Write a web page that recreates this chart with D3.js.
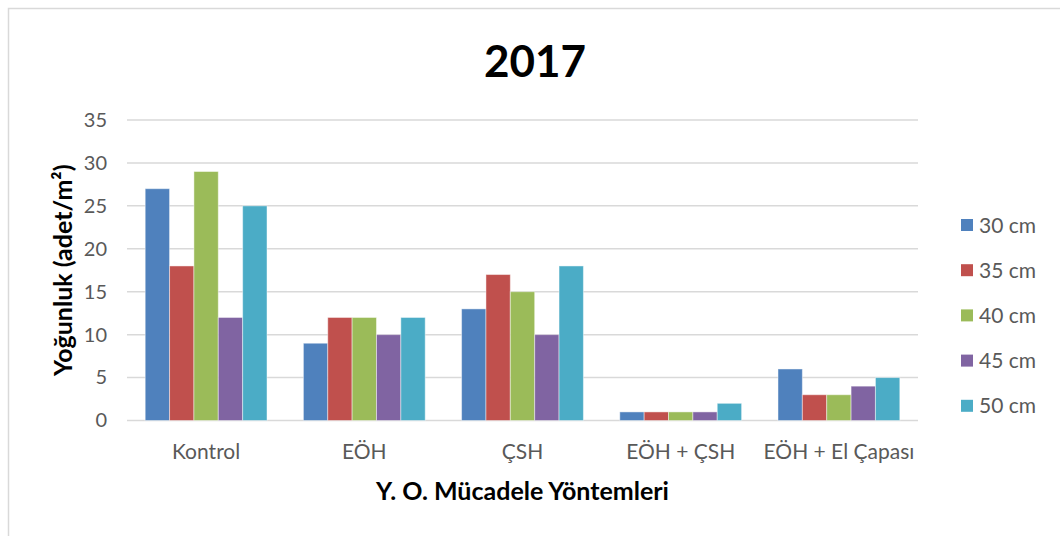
<!DOCTYPE html>
<html><head><meta charset="utf-8">
<script src="https://cdn.jsdelivr.net/npm/d3@7/dist/d3.min.js"></script>
<style>body{margin:0;background:#fff}svg{display:block}text{font-family:Lato,"Open Sans",sans-serif}</style>
</head><body>
<svg id="c" width="1060" height="536"></svg>
<script>
const categories = ["Kontrol","EÖH","ÇSH","EÖH + ÇSH","EÖH + El Çapası"];
const seriesNames = ["30 cm","35 cm","40 cm","45 cm","50 cm"];
const colors = ["#4F81BD","#C0504D","#9BBB59","#8064A2","#4BACC6"];
const s30 = [27, 9, 13, 1, 6];
const s35 = [18, 12, 17, 1, 3];
const s40 = [29, 12, 15, 1, 3];
const s45 = [12, 10, 10, 1, 4];
const s50 = [25, 12, 18, 2, 5];
const yTicks = [0,5,10,15,20,25,30,35];
const series = [s30,s35,s40,s45,s50];

const svg = d3.select("#c");
svg.append("rect").attr("x",8.5).attr("y",8.5).attr("width",1070).attr("height",540)
  .attr("fill","#fff").attr("stroke","#D9D9D9").attr("stroke-width",1.5);

const L=127, R=918, T=120, B=420.5;
const x = d3.scaleBand().domain(categories).range([L,R]).padding(0);
const bw = x.bandwidth();
const gap = bw*0.115;
const xs = d3.scaleBand().domain(d3.range(series.length)).range([gap, bw-gap]).padding(0);
const y = d3.scaleLinear().domain([0,35]).range([B,T]);

// grid
svg.append("g").selectAll("line").data(yTicks).join("line")
  .attr("x1",L).attr("x2",R).attr("y1",d=>y(d)).attr("y2",d=>y(d))
  .attr("stroke","#D9D9D9").attr("stroke-width",1.5);

// y axis labels
const yAxis = d3.axisLeft(y).tickValues(yTicks).tickSize(0).tickPadding(0);
const ga = svg.append("g").attr("transform",`translate(${L-20},0)`).call(yAxis);
ga.select(".domain").remove();
ga.selectAll("text").attr("font-size",20).attr("fill","#595959").attr("font-family","Lato");

// bars
const g = svg.append("g");
series.forEach((s,si)=>{
  g.append("g").selectAll("rect").data(s).join("rect")
    .attr("x",(d,i)=>x(categories[i])+xs(si))
    .attr("width",xs.bandwidth())
    .attr("y",d=>y(d))
    .attr("height",d=>y(0)-y(d))
    .attr("fill",colors[si])
    .attr("stroke","rgba(255,255,255,0.45)").attr("stroke-width",1);
});

// x axis
const xAxis = d3.axisBottom(x).tickSize(0).tickPadding(0);
const gx = svg.append("g").attr("transform",`translate(0,${B})`).call(xAxis);
gx.select(".domain").remove();
gx.selectAll("text").attr("font-size",21).attr("fill","#595959").attr("dy",null).attr("y",38).attr("font-family","Lato");

// title
svg.append("text").attr("x",535).attr("y",77).attr("text-anchor","middle")
  .attr("font-size",44).attr("font-weight","bold").attr("fill","#000").text("2017");

// axis titles
svg.append("text").attr("x",(L+R)/2).attr("y",500).attr("text-anchor","middle")
  .attr("font-size",25).attr("font-weight","bold").attr("fill","#000").text("Y. O. Mücadele Yöntemleri");
svg.append("text").attr("transform",`translate(72,${(T+B)/2}) rotate(-90)`).attr("text-anchor","middle")
  .attr("font-size",25).attr("font-weight","bold").attr("fill","#000").text("Yoğunluk (adet/m²)");

// legend
const lg = svg.append("g");
seriesNames.forEach((n,i)=>{
  const cy = 225 + i*45.2;
  lg.append("rect").attr("x",961).attr("y",cy-6).attr("width",12).attr("height",12).attr("fill",colors[i]);
  lg.append("text").attr("x",979).attr("y",cy).attr("dy","0.36em").attr("font-size",21).attr("fill","#595959").text(n);
});
</script>
</body></html>
